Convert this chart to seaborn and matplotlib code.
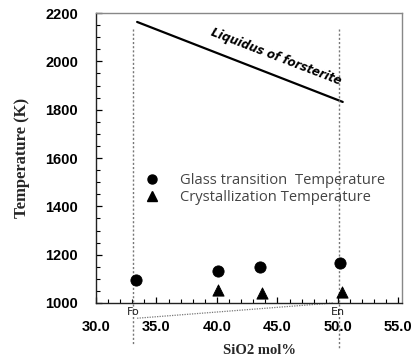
import matplotlib
matplotlib.use("Agg")
import matplotlib.pyplot as plt
import seaborn as sns
import pandas as pd
from matplotlib.ticker import MultipleLocator, FormatStrFormatter
from matplotlib.lines import Line2D

sns.set_theme(style="white")
plt.rcParams['font.family'] = ['DejaVu Sans']

# data
sio2 = [33.3, 40.1, 43.6, 50.2]
glass_T = [1095, 1134, 1149, 1164]
cryst_sio2 = [40.1, 43.7, 50.3]
cryst_T = [1054, 1041, 1047]
liq_x = [33.4, 50.4]
liq_T = [2163, 1832]
fo_x = 33.1
en_x = 50.1
xticks = [30, 35, 40, 45, 50, 55]
yticks = [1000, 1200, 1400, 1600, 1800, 2000, 2200]

fig = plt.figure(figsize=(4.16, 3.61), dpi=100)
ax = fig.add_axes([96/416, 1-303/361, (402-96)/416, 290/361])

glass = pd.DataFrame({"x": sio2, "T": glass_T})
cryst = pd.DataFrame({"x": cryst_sio2, "T": cryst_T})
liq = pd.DataFrame({"x": liq_x, "T": liq_T})

sns.lineplot(data=liq, x="x", y="T", ax=ax, color="black", linewidth=1.6)
sns.scatterplot(data=glass, x="x", y="T", ax=ax, marker="o", s=65, color="black",
                edgecolor="black", zorder=5)
sns.scatterplot(data=cryst, x="x", y="T", ax=ax, marker="^", s=65, color="black",
                edgecolor="black", zorder=5)

# vertical dotted lines for Fo and En
ax.plot([fo_x, fo_x], [2135, 830], color="#777777", linestyle=(0, (1.5, 1.5)),
        linewidth=1.0, clip_on=False)
ax.plot([en_x, en_x], [2135, 810], color="#777777", linestyle=(0, (1.5, 1.5)),
        linewidth=1.0, clip_on=False)
# dotted connector below axis
ax.plot([fo_x + 0.3, en_x - 0.5], [937, 1000], color="#777777", linestyle=(0, (1, 1)),
        linewidth=0.9, clip_on=False)

ax.text(fo_x - 0.05, 962, "Fo", ha="center", va="center", fontsize=8, color="#222222",
        clip_on=False)
ax.text(en_x - 0.1, 964, "En", ha="center", va="center", fontsize=8, color="#222222",
        clip_on=False)

ax.text(44.9, 2020, "Liquidus of forsterite", rotation=-21, ha="center", va="center",
        fontsize=8.4, fontweight="bold", fontstyle="italic", color="black",
        rotation_mode="anchor")

ax.set_xlim(30.0, 55.3)
ax.set_ylim(1000, 2200)
ax.set_xticks(xticks)
ax.set_yticks(yticks)
ax.xaxis.set_major_formatter(FormatStrFormatter("%.1f"))
ax.xaxis.set_minor_locator(MultipleLocator(1))
ax.yaxis.set_minor_locator(MultipleLocator(50))
ax.tick_params(axis="both", which="both", direction="in", colors="black")
ax.tick_params(axis="both", which="major", length=4, width=0.9)
ax.tick_params(axis="both", which="minor", length=3, width=0.8)
ax.tick_params(axis="x", which="both", bottom=True, top=False)
ax.tick_params(axis="y", which="both", left=True, right=False)
ax.tick_params(axis="y", which="major", pad=13)
ax.tick_params(axis="x", which="major", pad=12)
for lab in ax.get_xticklabels() + ax.get_yticklabels():
    lab.set_fontfamily("Liberation Sans")
    lab.set_fontweight("bold")
    lab.set_fontsize(10.5)

for side in ["left", "bottom"]:
    ax.spines[side].set_color("#222222")
    ax.spines[side].set_linewidth(1.0)
for side in ["top", "right"]:
    ax.spines[side].set_color("#888888")
    ax.spines[side].set_linewidth(1.0)

ax.set_xlabel("SiO2 mol%", fontfamily="Liberation Serif", fontweight="bold", fontsize=10.5)
ax.set_ylabel("Temperature (K)", fontfamily="Liberation Serif", fontweight="bold", fontsize=12)
ax.xaxis.set_label_coords(0.535, -0.14)
ax.yaxis.set_label_coords(-0.215, 0.5)

handles = [
    Line2D([], [], marker="o", color="black", linestyle="none", markersize=6.5),
    Line2D([], [], marker="^", color="black", linestyle="none", markersize=6.5),
]
leg = ax.legend(handles, ["Glass transition  Temperature", "Crystallization Temperature"],
                loc="upper left", bbox_to_anchor=(0.115, 0.468), frameon=False,
                handletextpad=0.9, labelspacing=0.12, borderaxespad=0,
                prop={"family": "Open Sans", "size": 10.6})
for t in leg.get_texts():
    t.set_color("#444444")

fig.savefig("out.png", dpi=100)
